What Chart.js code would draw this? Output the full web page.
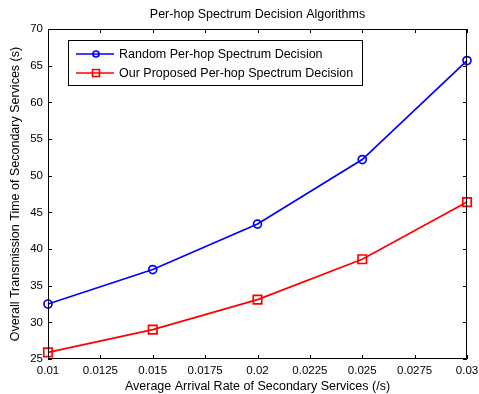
<!DOCTYPE html>
<html>
<head>
<meta charset="utf-8">
<script src="https://cdn.jsdelivr.net/npm/chart.js@4.4.0/dist/chart.umd.min.js"></script>
<style>
  html, body { margin: 0; padding: 0; background: #fff; }
  #wrap { width: 479px; height: 394px; }
</style>
</head>
<body>
<div id="wrap"><canvas id="chart" width="479" height="394"></canvas></div>
<script>
// datos
var arrivalRates = [0.01, 0.015, 0.02, 0.025, 0.03];
var randomTimes = [32.5, 37.2, 43.4, 52.2, 65.7];
var proposedTimes = [25.9, 29.0, 33.1, 38.6, 46.4];
var xTickLabels = ['0.01', '0.0125', '0.015', '0.0175', '0.02', '0.0225', '0.025', '0.0275', '0.03'];
var yTickLabels = ['25', '30', '35', '40', '45', '50', '55', '60', '65', '70'];

var FONT = 'Liberation Sans, Arial, sans-serif';
var LABEL_SIZE = 12.5;

function toPoints(xs, ys) {
    return xs.map(function (x, i) { return { x: x, y: ys[i] }; });
}

// Marcas hacia dentro, caja, titulo y leyenda estilo MATLAB
var matlabPlugin = {
    id: 'matlabBox',
    afterDraw: function (chart) {
        var ctx = chart.ctx;
        var a = chart.chartArea;
        var xs = chart.scales.x, ys = chart.scales.y;
        ctx.save();
        ctx.strokeStyle = '#000';
        ctx.lineWidth = 1;
        ctx.beginPath();
        ctx.rect(a.left + 0.5, a.top + 0.5, a.right - a.left - 1, a.bottom - a.top - 1);
        ctx.stroke();
        var tl = 4;
        ctx.beginPath();
        xs.ticks.forEach(function (t) {
            var px = Math.round(xs.getPixelForValue(t.value)) + 0.5;
            ctx.moveTo(px, a.bottom); ctx.lineTo(px, a.bottom - tl);
            ctx.moveTo(px, a.top); ctx.lineTo(px, a.top + tl);
        });
        ys.ticks.forEach(function (t) {
            var py = Math.round(ys.getPixelForValue(t.value)) + 0.5;
            ctx.moveTo(a.left, py); ctx.lineTo(a.left + tl, py);
            ctx.moveTo(a.right, py); ctx.lineTo(a.right - tl, py);
        });
        ctx.stroke();

        // titulo
        ctx.fillStyle = '#000';
        ctx.font = LABEL_SIZE + 'px ' + FONT;
        ctx.textAlign = 'center';
        ctx.textBaseline = 'middle';
        ctx.fillText('Per-hop Spectrum Decision Algorithms', (a.left + a.right) / 2, 15);

        // leyenda
        var lx = 68, ly = 40, lw = 294, lh = 45;
        ctx.fillStyle = '#fff';
        ctx.fillRect(lx, ly, lw, lh);
        ctx.strokeStyle = '#000';
        ctx.strokeRect(lx + 0.5, ly + 0.5, lw, lh);
        ctx.textAlign = 'left';
        chart.data.datasets.forEach(function (ds, i) {
            var cy = ly + 14 + i * 19;
            ctx.strokeStyle = ds.borderColor;
            ctx.lineWidth = 1.7;
            ctx.beginPath();
            ctx.moveTo(lx + 8, cy); ctx.lineTo(lx + 46, cy);
            ctx.stroke();
            ctx.beginPath();
            if (ds.pointStyle === 'rect') {
                ctx.rect(lx + 28 - 3.5, cy - 3.5, 7, 7);
            } else {
                ctx.arc(lx + 28, cy, 3, 0, Math.PI * 2);
            }
            ctx.stroke();
            ctx.fillStyle = '#000';
            ctx.fillText(ds.label, lx + 51, cy + 1);
        });
        ctx.restore();
    }
};

var ctxChart = document.getElementById('chart').getContext('2d');
var chart = new Chart(ctxChart, {
    type: 'line',
    data: {
        datasets: [{
            label: 'Random Per-hop Spectrum Decision',
            data: toPoints(arrivalRates, randomTimes),
            borderColor: '#0000ff',
            backgroundColor: 'rgba(0,0,0,0)',
            borderWidth: 1.7,
            pointStyle: 'circle',
            pointRadius: 4,
            pointBorderWidth: 1.7,
            pointBorderColor: '#0000ff',
            pointBackgroundColor: 'rgba(0,0,0,0)',
            tension: 0
        }, {
            label: 'Our Proposed Per-hop Spectrum Decision',
            data: toPoints(arrivalRates, proposedTimes),
            borderColor: '#ff0000',
            backgroundColor: 'rgba(0,0,0,0)',
            borderWidth: 1.7,
            pointStyle: 'rect',
            pointRadius: 6,
            pointBorderWidth: 1.7,
            pointBorderColor: '#ff0000',
            pointBackgroundColor: 'rgba(0,0,0,0)',
            tension: 0
        }]
    },
    options: {
        responsive: false,
        animation: false,
        clip: false,
        layout: { padding: { top: 29, right: 12, left: 0, bottom: 0 } },
        plugins: {
            legend: { display: false },
            title: { display: false },
            tooltip: { enabled: false }
        },
        scales: {
            x: {
                type: 'linear',
                min: 0.01,
                max: 0.03,
                afterBuildTicks: function (s) {
                    s.ticks = xTickLabels.map(function (l) { return { value: parseFloat(l) }; });
                },
                afterFit: function (s) {
                    s.height = 35;
                    s.paddingLeft = 0;
                    s.paddingRight = 0;
                },
                grid: { display: false, drawTicks: false },
                border: { display: false },
                ticks: {
                    autoSkip: false,
                    maxRotation: 0,
                    padding: 5,
                    color: '#000',
                    font: { family: FONT, size: 11.5 },
                    callback: function (v, i) { return xTickLabels[i]; }
                },
                title: {
                    display: true,
                    text: 'Average Arrival Rate of Secondary Services (/s)',
                    color: '#000',
                    font: { family: FONT, size: LABEL_SIZE },
                    padding: { top: 1, bottom: 0 }
                }
            },
            y: {
                type: 'linear',
                min: 25,
                max: 70,
                afterBuildTicks: function (s) {
                    s.ticks = yTickLabels.map(function (l) { return { value: parseFloat(l) }; });
                },
                afterFit: function (s) {
                    s.width = 48;
                    s.paddingTop = 0;
                    s.paddingBottom = 0;
                },
                grid: { display: false, drawTicks: false },
                border: { display: false },
                ticks: {
                    autoSkip: false,
                    padding: 5,
                    color: '#000',
                    font: { family: FONT, size: 11.5 },
                    callback: function (v, i) { return yTickLabels[i]; }
                },
                title: {
                    display: true,
                    text: 'Overall Transmission Time of Secondary Services (s)',
                    color: '#000',
                    font: { family: FONT, size: LABEL_SIZE },
                    padding: { top: 8, bottom: 0 }
                }
            }
        }
    },
    plugins: [matlabPlugin]
});
</script>
</body>
</html>
